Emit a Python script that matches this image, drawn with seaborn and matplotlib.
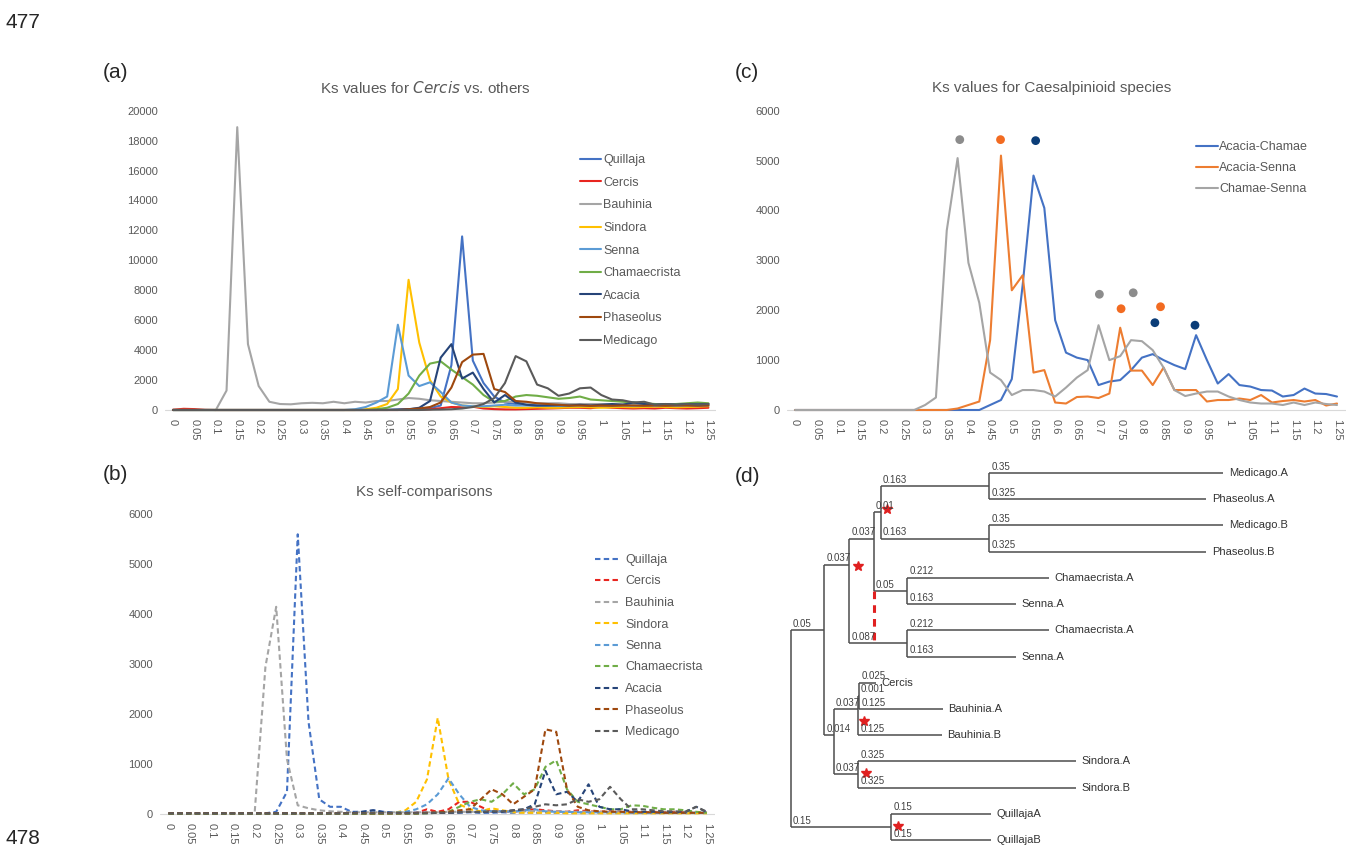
import numpy as np
import pandas as pd
import matplotlib
matplotlib.use("Agg")
import matplotlib.pyplot as plt
import seaborn as sns

# Ks bins (category axis, step 0.025)
ks = np.round(np.arange(0, 1.2501, 0.025), 3)

species = ['Quillaja', 'Cercis', 'Bauhinia', 'Sindora', 'Senna',
           'Chamaecrista', 'Acacia', 'Phaseolus', 'Medicago']
species_colors = ['#4472C4', '#E8251F', '#A5A5A5', '#FFC000', '#5B9BD5',
                  '#70AD47', '#264478', '#9E480E', '#5A5A5A']

# (a) Ks values for Cercis vs. others
a_quillaja = [0, 0, 0, 0, 0, 0, 0, 0, 0, 0,
              0, 0, 0, 0, 0, 0, 0, 0, 0, 0,
              20, 40, 60, 80, 120, 300, 3000, 11600, 3300, 1800,
              900, 500, 400, 350, 300, 300, 280, 300, 300, 280,
              300, 300, 320, 300, 300, 320, 300, 320, 300, 320,
              350]
a_cercis = [20, 80, 60, 10, 0, 0, 0, 0, 0, 0,
            0, 0, 0, 0, 0, 0, 0, 0, 0, 0,
            0, 0, 0, 20, 50, 120, 200, 180, 220, 100,
            60, 40, 40, 60, 80, 100, 120, 150, 150, 120,
            200, 150, 120, 100, 120, 100, 150, 120, 100, 120,
            150]
a_bauhinia = [0, 0, 0, 0, 0, 1300, 18900, 4400, 1600, 550,
              400, 380, 450, 480, 450, 550, 450, 550, 500, 600,
              600, 700, 800, 750, 650, 600, 550, 500, 450, 450,
              500, 550, 550, 500, 450, 450, 450, 400, 400, 400,
              400, 380, 400, 400, 380, 400, 380, 400, 380, 400,
              400]
a_sindora = [0, 0, 0, 0, 0, 0, 0, 0, 0, 0,
             0, 0, 0, 0, 0, 0, 0, 0, 50, 150,
             400, 1400, 8700, 4500, 2000, 900, 500, 300, 250, 200,
             250, 200, 150, 150, 180, 150, 150, 180, 200, 180,
             150, 180, 200, 180, 200, 220, 200, 180, 200, 220,
             250]
a_senna = [0, 0, 0, 0, 0, 0, 0, 0, 0, 0,
           0, 0, 0, 0, 0, 0, 0, 50, 200, 500,
           900, 5700, 2300, 1600, 1850, 1200, 500, 300, 250, 250,
           300, 350, 300, 300, 280, 300, 280, 300, 300, 280,
           300, 280, 300, 280, 300, 280, 300, 280, 300, 280,
           300]
a_chamaecrista = [0, 0, 0, 0, 0, 0, 0, 0, 0, 0,
                  0, 0, 0, 0, 0, 0, 0, 0, 0, 50,
                  150, 400, 1100, 2300, 3100, 3250, 2700, 2200, 1700, 1000,
                  550, 600, 900, 1000, 950, 850, 750, 800, 900, 700,
                  650, 600, 550, 500, 450, 400, 350, 400, 450, 500,
                  450]
a_acacia = [0, 0, 0, 0, 0, 0, 0, 0, 0, 0,
            0, 0, 0, 0, 0, 0, 0, 0, 0, 0,
            0, 20, 50, 150, 600, 3500, 4400, 2100, 2500, 1400,
            500, 1000, 500, 350, 300, 300, 320, 300, 350, 300,
            350, 400, 350, 500, 400, 350, 400, 350, 400, 380,
            400]
a_phaseolus = [0, 0, 0, 0, 0, 0, 0, 0, 0, 0,
               0, 0, 0, 0, 0, 0, 0, 0, 0, 0,
               0, 0, 50, 100, 200, 500, 1500, 3200, 3700, 3750,
               1400, 1200, 600, 550, 450, 400, 350, 300, 300, 280,
               300, 280, 300, 300, 280, 300, 280, 300, 300, 280,
               300]
a_medicago = [0, 0, 0, 0, 0, 0, 0, 0, 0, 0,
              0, 0, 0, 0, 0, 0, 0, 0, 0, 0,
              0, 0, 0, 0, 20, 30, 50, 100, 200, 400,
              800, 1800, 3600, 3250, 1700, 1450, 950, 1100, 1450, 1500,
              1000, 700, 650, 500, 550, 350, 400, 350, 400, 350,
              400]

# (b) Ks self-comparisons
b_quillaja = [20, 20, 20, 20, 20, 20, 20, 20, 20, 20,
              50, 450, 5600, 1850, 300, 150, 150, 50, 50, 80,
              50, 30, 30, 30, 30, 40, 30, 30, 40, 30,
              30, 40, 30, 40, 30, 40, 30, 30, 40, 30,
              30, 40, 30, 30, 40, 30, 30, 40, 30, 30,
              30]
b_cercis = [20, 20, 20, 20, 20, 20, 20, 20, 20, 20,
            20, 20, 20, 20, 20, 20, 20, 20, 20, 20,
            20, 20, 20, 30, 100, 50, 100, 250, 250, 150,
            50, 60, 50, 80, 100, 80, 60, 50, 80, 60,
            50, 60, 50, 50, 40, 50, 40, 50, 40, 30,
            30]
b_bauhinia = [20, 20, 20, 20, 20, 20, 20, 20, 30, 2950,
              4150, 1100, 180, 120, 80, 60, 50, 40, 40, 40,
              40, 40, 40, 40, 40, 40, 50, 50, 50, 50,
              50, 50, 60, 60, 60, 60, 60, 50, 50, 50,
              50, 40, 40, 40, 40, 40, 30, 30, 30, 30,
              30]
b_sindora = [10, 10, 10, 10, 10, 10, 10, 10, 10, 10,
             10, 10, 10, 10, 10, 10, 10, 10, 10, 10,
             10, 30, 80, 250, 700, 1930, 700, 200, 100, 60,
             120, 80, 40, 30, 30, 30, 30, 20, 20, 20,
             20, 20, 20, 20, 20, 20, 20, 20, 20, 20,
             20]
b_senna = [10, 10, 10, 10, 10, 10, 10, 10, 10, 10,
           10, 10, 10, 10, 10, 10, 10, 10, 10, 20,
           20, 30, 50, 100, 200, 400, 720, 400, 150, 80,
           60, 60, 50, 80, 100, 60, 50, 50, 40, 40,
           40, 40, 40, 30, 30, 30, 30, 30, 30, 30,
           30]
b_chamaecrista = [10, 10, 10, 10, 10, 10, 10, 10, 10, 10,
                  10, 10, 10, 10, 10, 10, 10, 10, 10, 10,
                  10, 10, 10, 10, 20, 30, 50, 150, 250, 300,
                  250, 400, 620, 400, 500, 950, 1080, 500, 250, 200,
                  150, 100, 100, 180, 170, 130, 100, 100, 80, 50,
                  30]
b_acacia = [20, 20, 20, 20, 20, 20, 20, 20, 20, 20,
            20, 20, 20, 20, 20, 20, 20, 30, 50, 80,
            40, 30, 30, 30, 30, 30, 30, 40, 50, 40,
            50, 50, 80, 100, 200, 870, 400, 450, 250, 600,
            150, 100, 100, 60, 50, 50, 40, 40, 50, 150,
            40]
b_phaseolus = [20, 20, 20, 20, 20, 20, 20, 20, 20, 20,
               20, 20, 20, 20, 20, 20, 20, 20, 20, 20,
               20, 20, 20, 20, 30, 40, 50, 80, 100, 300,
               500, 400, 200, 350, 500, 1700, 1650, 500, 150, 80,
               60, 50, 50, 40, 40, 40, 30, 30, 30, 30,
               30]
b_medicago = [20, 20, 20, 20, 20, 20, 20, 20, 20, 20,
              20, 20, 20, 20, 20, 20, 20, 20, 20, 20,
              20, 20, 20, 20, 20, 30, 30, 40, 50, 50,
              60, 60, 80, 100, 150, 200, 180, 200, 300, 250,
              300, 550, 300, 100, 100, 80, 60, 60, 50, 150,
              50]

# (c) Ks values for Caesalpinioid species
pairs = ['Acacia-Chamae', 'Acacia-Senna', 'Chamae-Senna']
pair_colors = ['#4472C4', '#ED7D31', '#A5A5A5']
c_acacia_chamae = [0, 0, 0, 0, 0, 0, 0, 0, 0, 0,
                   0, 0, 0, 0, 0, 0, 0, 0, 100, 200,
                   620, 2500, 4700, 4050, 1800, 1150, 1050, 1000, 500, 570,
                   600, 800, 1050, 1120, 1000, 900, 820, 1500, 1000, 530,
                   720, 500, 470, 400, 390, 270, 300, 430, 330, 320,
                   270]
c_acacia_senna = [0, 0, 0, 0, 0, 0, 0, 0, 0, 0,
                  0, 0, 0, 0, 0, 30, 100, 170, 1400, 5100,
                  2400, 2700, 750, 800, 150, 130, 260, 270, 240, 330,
                  1650, 790, 790, 500, 850, 400, 400, 400, 170, 200,
                  200, 230, 200, 300, 150, 180, 200, 170, 200, 90,
                  130]
c_chamae_senna = [0, 0, 0, 0, 0, 0, 0, 0, 0, 0,
                  0, 0, 100, 250, 3600, 5050, 2950, 2150, 750, 600,
                  300, 400, 400, 370, 270, 450, 650, 800, 1700, 1000,
                  1080, 1400, 1380, 1200, 850, 400, 280, 330, 370, 370,
                  270, 200, 150, 130, 130, 100, 150, 100, 150, 120,
                  100]

# peak markers in (c)
dot_ks = [0.38, 0.474, 0.555, 0.702, 0.78, 0.752, 0.843, 0.83, 0.9225]
dot_val = [5420, 5420, 5400, 2320, 2350, 2030, 2070, 1750, 1700]
dot_group = ['Chamae-Senna', 'Acacia-Senna', 'Acacia-Chamae',
             'Chamae-Senna', 'Chamae-Senna', 'Acacia-Senna', 'Acacia-Senna',
             'Acacia-Chamae', 'Acacia-Chamae']
dot_palette = {'Chamae-Senna': '#8C8C8C', 'Acacia-Senna': '#F26B21',
               'Acacia-Chamae': '#0B3D78'}

# (d) tree: (name, branch length, children)
tree = ("root", 0.0, [
    ("A", 0.05, [
        ("B", 0.037, [
            ("C", 0.037, [
                ("D", 0.01, [
                    ("E", 0.163, [("Medicago.A", 0.35, []), ("Phaseolus.A", 0.325, [])]),
                    ("F", 0.163, [("Medicago.B", 0.35, []), ("Phaseolus.B", 0.325, [])]),
                ]),
                ("G", 0.05, [("Chamaecrista.A", 0.212, []), ("Senna.A", 0.163, [])]),
            ]),
            ("H", 0.087, [("Chamaecrista.A", 0.212, []), ("Senna.A", 0.163, [])]),
        ]),
        ("I", 0.014, [
            ("J", 0.037, [
                ("N", 0.001, [("Cercis", 0.025, []), ("Bauhinia.A", 0.125, [])]),
                ("Bauhinia.B", 0.125, []),
            ]),
            ("K", 0.037, [("Sindora.A", 0.325, []), ("Sindora.B", 0.325, [])]),
        ]),
    ]),
    ("Q", 0.15, [("QuillajaA", 0.15, []), ("QuillajaB", 0.15, [])]),
])
star_x = [0.1437, 0.1003, 0.1093, 0.1123, 0.160]
star_y = [1.37, 3.55, 9.47, 11.45, 13.47]

W, H = 1354, 848
sns.set_style("white")
plt.rcParams['font.family'] = ['Liberation Sans Narrow', 'Liberation Sans', 'DejaVu Sans']
plt.rcParams['mathtext.fontset'] = 'custom'
plt.rcParams['mathtext.it'] = 'Liberation Sans Narrow:italic'
plt.rcParams['mathtext.rm'] = 'Liberation Sans Narrow'

fig = plt.figure(figsize=(W / 100, H / 100), dpi=100)
TXT = '#595959'


def add_panel(dx, dy, px, py, rect):
    # rect = left, top, right, bottom in pixels; dx/dy data values at pixels px/py
    l, t, r, b = rect
    ax = fig.add_axes([l / W, 1 - b / H, (r - l) / W, (b - t) / H])
    sx = (dx[1] - dx[0]) / (px[1] - px[0])
    sy = (dy[1] - dy[0]) / (py[1] - py[0])
    ax.set_xlim(dx[0] + (l - px[0]) * sx, dx[0] + (r - px[0]) * sx)
    ax.set_ylim(dy[0] + (b - py[0]) * sy, dy[0] + (t - py[0]) * sy)
    return ax


def style_ks(ax, ymax, ystep):
    for s in ax.spines.values():
        s.set_visible(False)
    ax.axhline(0, color='#D9D9D9', lw=0.8, zorder=0)
    xt = np.round(np.arange(0, 1.2501, 0.05), 2)
    ax.set_xticks(xt)
    ax.set_xticklabels([f"{v:g}" for v in xt], rotation=270, va='top', ha='center')
    ax.set_yticks(np.arange(0, ymax + 1, ystep))
    ax.set_yticklabels([f"{int(v)}" for v in np.arange(0, ymax + 1, ystep)])
    ax.tick_params(length=0, labelsize=8, labelcolor=TXT, pad=5)
    ax.set_xlabel('')
    ax.set_ylabel('')


def put_legend(ax, x, y, hl, tp, ls):
    ax.legend(loc='upper left', bbox_to_anchor=(x / W, 1 - y / H),
              bbox_transform=fig.transFigure, frameon=False, borderpad=0,
              borderaxespad=0, handlelength=hl, handletextpad=tp,
              labelspacing=ls, fontsize=9, labelcolor=TXT)


# panel (a)
ax_a = add_panel((0, 1.25), (0, 20000), (173, 708.4), (410, 110.7), (165, 100, 716, 412))
a_values = [a_quillaja, a_cercis, a_bauhinia, a_sindora, a_senna,
            a_chamaecrista, a_acacia, a_phaseolus, a_medicago]
for name, vals, col in zip(species, a_values, species_colors):
    sns.lineplot(x=ks, y=vals, color=col, lw=1.5, label=name, ax=ax_a)
style_ks(ax_a, 20000, 2000)
put_legend(ax_a, 580, 154, 1.7, 0.15, 0.85)

# panel (b)
ax_b = add_panel((0, 1.25), (0, 6000), (168.5, 707), (814.3, 514.3), (160, 505, 715, 816))
b_values = [b_quillaja, b_cercis, b_bauhinia, b_sindora, b_senna,
            b_chamaecrista, b_acacia, b_phaseolus, b_medicago]
for name, vals, col in zip(species, b_values, species_colors):
    sns.lineplot(x=ks, y=vals, color=col, lw=1.5, label=name, ax=ax_b,
                 linestyle=(0, (2.6, 1.6)))
style_ks(ax_b, 6000, 1000)
put_legend(ax_b, 595, 554, 2.0, 0.4, 0.76)

# panel (c)
ax_c = add_panel((0, 1.25), (0, 6000), (795, 1337), (410, 110.7), (787, 100, 1346, 412))
c_values = [c_acacia_chamae, c_acacia_senna, c_chamae_senna]
for name, vals, col in zip(pairs, c_values, pair_colors):
    sns.lineplot(x=ks, y=vals, color=col, lw=1.5, label=name, ax=ax_c)
sns.scatterplot(x=dot_ks, y=dot_val, hue=dot_group, palette=dot_palette,
                s=40, edgecolor='none', legend=False, ax=ax_c, zorder=5)
style_ks(ax_c, 6000, 1000)
put_legend(ax_c, 1196, 141, 1.75, 0.1, 0.72)

# panel (d): phylogram
ax_d = add_panel((0, 1), (0, 14), (791, 1459), (473, 840), (775, 455, 1354, 848))
ax_d.axis('off')
records = []
nodes = {}


def layout(node, x0, counter):
    name, bl, kids = node
    x = x0 + bl
    if not kids:
        tips = [counter[0]]
        counter[0] += 1
        child_y = []
    else:
        tips, child_y = [], []
        for k in kids:
            t, cy = layout(k, x, counter)
            tips += t
            child_y.append(cy)
    y = float(np.mean(tips))
    records.append((name, bl, x0, x, y, child_y, not kids))
    if kids:
        nodes[name] = (x, y)
    return tips, y


layout(tree, 0.0, [0])
LC = '#4D4D4D'
for name, bl, x0, x, y, child_y, leaf in records:
    if child_y:
        ax_d.plot([x, x], [child_y[0], child_y[-1]], color=LC, lw=1.1, solid_capstyle='butt')
    if name == 'root':
        continue
    ax_d.plot([x0, x], [y, y], color=LC, lw=1.1, solid_capstyle='butt')
    ax_d.annotate(f"{bl:g}", (x0, y), xytext=(1.5, 1), textcoords='offset points',
                  ha='left', va='bottom', fontsize=7, color='#404040',
                  family=['Liberation Sans', 'DejaVu Sans'])
    if leaf:
        ax_d.annotate(name, (x, y), xytext=(4, 0), textcoords='offset points',
                      ha='left', va='center', fontsize=8, color='#333333',
                      family=['Liberation Sans', 'DejaVu Sans'])

# red dashed link between the two Chamaecrista/Senna clades
cx = nodes['C'][0]
ax_d.plot([cx, cx], [nodes['G'][1], nodes['H'][1]], color='#E02020', lw=2.2,
          linestyle=(0, (2.5, 2)))
ax_d.plot(star_x, star_y, linestyle='none', marker='*', color='#E02020', ms=7)

# titles and labels
fig.text(425.7 / W, 1 - 88 / H, r"Ks values for $\mathit{Cercis}$ vs. others",
         ha='center', va='center', fontsize=11, color=TXT)
fig.text(424 / W, 1 - 492 / H, "Ks self-comparisons",
         ha='center', va='center', fontsize=11, color=TXT)
fig.text(1052 / W, 1 - 88 / H, "Ks values for Caesalpinioid species",
         ha='center', va='center', fontsize=11, color=TXT)
for lab, x, y in [("(a)", 103, 72), ("(b)", 103, 475), ("(c)", 735, 72), ("(d)", 735, 477)]:
    fig.text(x / W, 1 - y / H, lab, ha='left', va='center', fontsize=15,
             family=['Liberation Sans', 'DejaVu Sans'])
fig.text(5 / W, 1 - 22 / H, "477", ha='left', va='center', fontsize=15,
         family=['Liberation Sans', 'DejaVu Sans'])
fig.text(5 / W, 1 - 838 / H, "478", ha='left', va='center', fontsize=15,
         family=['Liberation Sans', 'DejaVu Sans'])

fig.savefig("out.png", dpi=100)
